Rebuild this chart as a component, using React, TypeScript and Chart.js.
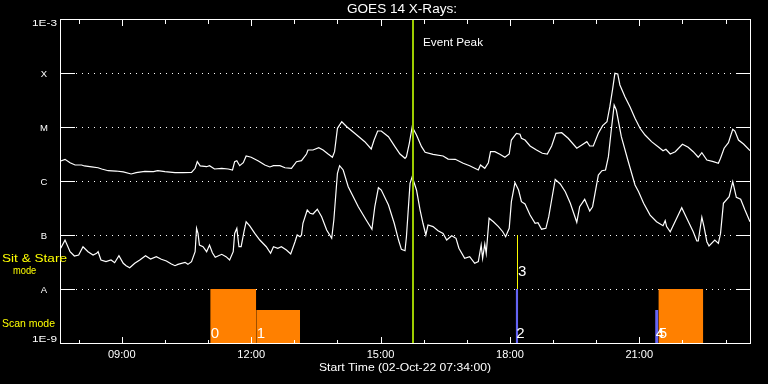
import React, { useEffect, useRef } from "react";
import { Chart, registerables } from "chart.js";

Chart.register(...registerables);

// ---------- data ----------
const TITLE = "GOES 14 X-Rays:";
const START_LABEL = "Start Time (02-Oct-22 07:34:00)";
const START_MINUTE_OF_DAY = 7 * 60 + 34; // 07:34
const SPAN_MINUTES = 960;
const TICK_HOURS = [8, 9, 10, 11, 12, 13, 14, 15, 16, 17, 18, 19, 20, 21, 22, 23];
const LABEL_HOURS = [9, 12, 15, 18, 21];
const Y_DECADES = [-9, -8, -7, -6, -5, -4, -3];
const Y_LABELS = ["1E-9", "A", "B", "C", "M", "X", "1E-3"];
const EVENT_PEAK_MIN = 491;
const EVENT_LABEL = "Event Peak";

// [minutes since 07:34, flux W/m^2] - long channel (1-8 A)
const LONG_CHANNEL: [number, number][] = [
  [1, 2.34e-6], [7, 2.52e-6], [14, 2.18e-6], [21, 1.98e-6], [30, 1.98e-6], [34, 1.9e-6],
  [44, 1.82e-6], [53, 1.76e-6], [58, 1.67e-6], [67, 1.55e-6], [78, 1.53e-6], [88, 1.47e-6],
  [99, 1.35e-6], [106, 1.43e-6], [118, 1.51e-6], [130, 1.49e-6], [136, 1.55e-6], [146, 1.49e-6],
  [160, 1.43e-6], [171, 1.43e-6], [183, 1.45e-6], [188, 1.72e-6], [191, 2.28e-6], [195, 1.9e-6],
  [204, 1.84e-6], [208, 1.92e-6], [215, 1.67e-6], [225, 1.72e-6], [234, 1.67e-6], [240, 1.6e-6],
  [243, 2.28e-6], [246, 2.38e-6], [250, 1.92e-6], [255, 2.18e-6], [259, 2.9e-6], [266, 2.75e-6],
  [276, 2.34e-6], [285, 1.98e-6], [292, 1.82e-6], [297, 1.92e-6], [306, 1.92e-6], [313, 1.76e-6],
  [322, 1.72e-6], [329, 2.28e-6], [336, 2.38e-6], [343, 3.16e-6], [345, 3.75e-6], [352, 3.75e-6],
  [360, 4.14e-6], [366, 3.75e-6], [373, 3.16e-6], [379, 2.75e-6], [382, 3.49e-6], [386, 9.46e-6],
  [392, 1.25e-5], [399, 1.01e-5], [410, 7.64e-6], [424, 5.35e-6], [433, 3.92e-6], [437, 5.74e-6],
  [442, 8.43e-6], [447, 8.43e-6], [457, 6.61e-6], [466, 4.32e-6], [473, 3.16e-6], [480, 2.63e-6],
  [482, 2.82e-6], [486, 4.99e-6], [490, 1.01e-5], [496, 7.11e-6], [503, 4.32e-6], [508, 3.4e-6],
  [519, 3.12e-6], [533, 2.9e-6], [540, 2.55e-6], [550, 2.52e-6], [561, 2.13e-6], [570, 1.92e-6],
  [582, 1.6e-6], [585, 1.98e-6], [591, 1.72e-6], [596, 2.18e-6], [599, 3.49e-6], [605, 3.49e-6],
  [612, 3.12e-6], [619, 2.75e-6], [625, 3.16e-6], [628, 5.74e-6], [635, 7.64e-6], [640, 7.33e-6],
  [642, 6.18e-6], [647, 5.74e-6], [654, 4.45e-6], [663, 3.75e-6], [671, 3.26e-6], [678, 3.16e-6],
  [684, 4.45e-6], [690, 7.64e-6], [698, 7.83e-6], [707, 6.18e-6], [719, 4.04e-6], [726, 4.64e-6],
  [733, 5.35e-6], [737, 4.45e-6], [742, 4.45e-6], [749, 7.64e-6], [755, 1.06e-5], [761, 1.25e-5],
  [765, 2.38e-5], [769, 5.21e-5], [772, 9.87e-5], [776, 9.58e-5], [779, 6.0e-5], [786, 3.64e-5],
  [793, 2.38e-5], [800, 1.45e-5], [807, 9.46e-6], [814, 7.11e-6], [823, 5.35e-6], [833, 4.21e-6],
  [839, 3.64e-6], [843, 3.86e-6], [849, 3.16e-6], [856, 3.49e-6], [866, 4.79e-6], [874, 4.21e-6],
  [881, 3.49e-6], [888, 2.75e-6], [893, 3.34e-6], [900, 2.45e-6], [909, 2.28e-6], [916, 2.13e-6],
  [919, 2.63e-6], [924, 4.04e-6], [930, 5.12e-6], [936, 9.06e-6], [939, 8.43e-6], [944, 5.74e-6],
  [951, 4.84e-6], [960, 3.64e-6],
];

// [minutes since 07:34, flux W/m^2] - short channel (0.5-4 A)
const SHORT_CHANNEL: [number, number][] = [
  [1, 5.68e-8], [7, 8.07e-8], [14, 4.91e-8], [20, 4.08e-8], [26, 4.26e-8], [32, 6.07e-8],
  [39, 4.91e-8], [46, 4.26e-8], [51, 4.58e-8], [53, 4.91e-8], [57, 3.44e-8], [64, 3.21e-8],
  [71, 3.44e-8], [76, 3.07e-8], [82, 4.14e-8], [88, 2.99e-8], [92, 2.7e-8], [97, 2.48e-8],
  [104, 2.99e-8], [111, 3.44e-8], [119, 4.14e-8], [126, 3.6e-8], [134, 3.97e-8], [141, 3.55e-8],
  [148, 3.3e-8], [155, 2.9e-8], [160, 2.7e-8], [164, 2.86e-8], [174, 3.12e-8], [178, 2.86e-8],
  [183, 3.21e-8], [188, 4.91e-8], [190, 1.33e-7], [192, 1.07e-7], [194, 6.53e-8], [199, 6.07e-8],
  [204, 4.91e-8], [208, 6.53e-8], [212, 4.7e-8], [216, 3.86e-8], [225, 4.39e-8], [231, 3.97e-8],
  [236, 3.44e-8], [241, 4.91e-8], [243, 1.07e-7], [246, 1.33e-7], [249, 6.07e-8], [252, 6.07e-8],
  [256, 1.15e-7], [259, 1.76e-7], [264, 1.47e-7], [271, 1.07e-7], [278, 8.07e-8], [287, 6.07e-8],
  [293, 4.58e-8], [297, 6.07e-8], [303, 5.68e-8], [308, 6.07e-8], [315, 5.27e-8], [321, 4.45e-8],
  [327, 7.52e-8], [330, 1.0e-7], [334, 9.3e-8], [336, 1.0e-7], [338, 1.65e-7], [344, 2.9e-7],
  [348, 2.52e-7], [352, 2.45e-7], [358, 2.99e-7], [364, 2.18e-7], [371, 1.24e-7], [378, 8.69e-8],
  [381, 1.9e-7], [386, 1.39e-6], [389, 1.92e-6], [394, 1.6e-6], [401, 7.83e-7], [415, 3.34e-7],
  [426, 1.9e-7], [434, 1.28e-7], [438, 3.34e-7], [443, 7.52e-7], [447, 6.81e-7], [457, 3.6e-7],
  [465, 1.65e-7], [471, 8.07e-8], [475, 5.43e-8], [480, 5.12e-8], [482, 9.3e-8], [487, 9.06e-7],
  [490, 1.2e-6], [496, 6.81e-7], [501, 2.9e-7], [505, 1.65e-7], [509, 1.0e-7], [512, 1.53e-7],
  [519, 1.43e-7], [526, 1.2e-7], [533, 1.07e-7], [538, 8.07e-8], [545, 9.71e-8], [551, 8.69e-8],
  [555, 5.68e-8], [563, 3.71e-8], [570, 3.97e-8], [577, 2.99e-8], [582, 3.21e-8], [586, 6.53e-8],
  [588, 3.71e-8], [591, 6.81e-8], [593, 4.58e-8], [597, 2.04e-7], [603, 1.76e-7], [610, 1.43e-7],
  [616, 1.15e-7], [620, 9.3e-8], [625, 1.33e-7], [628, 4.14e-7], [633, 9.3e-7], [638, 6.81e-7],
  [642, 4.14e-7], [647, 3.75e-7], [654, 2.34e-7], [661, 1.65e-7], [665, 1.69e-7], [670, 1.28e-7],
  [676, 1.33e-7], [680, 2.18e-7], [684, 4.45e-7], [689, 1.07e-6], [696, 8.8e-7], [703, 6.33e-7],
  [710, 3.86e-7], [719, 1.72e-7], [723, 3.34e-7], [730, 4.58e-7], [737, 2.78e-7], [741, 3.34e-7],
  [749, 1.29e-6], [754, 1.55e-6], [759, 1.6e-6], [763, 2.82e-6], [767, 8.8e-6], [771, 2.55e-5],
  [774, 2.06e-5], [781, 6.61e-6], [790, 2.45e-6], [800, 8.43e-7], [805, 6.33e-7], [812, 3.86e-7],
  [821, 2.34e-7], [830, 1.76e-7], [839, 1.49e-7], [842, 1.84e-7], [844, 1.43e-7], [849, 1.15e-7],
  [858, 2.04e-7], [865, 3.21e-7], [872, 2.04e-7], [881, 1.15e-7], [886, 7.75e-8], [888, 7.75e-8],
  [893, 2.13e-7], [896, 1.43e-7], [900, 7.52e-8], [903, 6.25e-8], [911, 8.07e-8], [916, 7.01e-8],
  [919, 1.07e-7], [923, 3.86e-7], [931, 5.12e-7], [936, 9.71e-7], [941, 4.99e-7], [947, 4.58e-7],
  [953, 2.9e-7], [960, 1.76e-7],
];

// observation blocks (minutes since 07:34)
const BLOCK_LABELS = ["0", "1", "2", "4", "5"];
const BLOCK_START = [209, 273, 634, 828, 832.5];
const BLOCK_END = [273, 334, 637.5, 832.5, 895];
const BLOCK_LEVEL = [1e-8, 4.1e-9, 1e-8, 4.1e-9, 1e-8];
const BLOCK_KIND = ["orange", "orange", "blue", "blue", "orange"];
const MARK_LABEL = "3";
const MARK_TIME = 636.5;
const MARK_FROM = 1e-8;
const MARK_TO = 1e-7;

const MODE_LABELS = ["Sit & Stare", "mode", "Scan mode"];

// ---------- styles ----------
const FONT = '"Liberation Sans", Arial, sans-serif';
const ORANGE = "#ff8000";
const BLUE = "#6464f4";
const YELLOW = "#ffff00";
const LIME = "rgb(156,204,0)";

function txt(
  ctx: CanvasRenderingContext2D,
  s: string,
  x: number,
  y: number,
  size: number,
  color: string,
  align: "left" | "center" | "right",
  width?: number,
  sx0?: number
) {
  ctx.save();
  ctx.font = `${size}px ${FONT}`;
  ctx.fillStyle = color;
  ctx.textBaseline = "middle";
  ctx.textAlign = "left";
  const w = ctx.measureText(s).width;
  const sx = width ? width / w : sx0 || 1;
  const tw = w * sx;
  const x0 = align === "left" ? x : align === "center" ? x - tw / 2 : x - tw;
  ctx.translate(x0, y);
  ctx.scale(sx, 1);
  ctx.fillText(s, 0, 0);
  ctx.restore();
}

const decor = {
  id: "decor",
  beforeDraw(chart: any) {
    const ctx = chart.ctx as CanvasRenderingContext2D;
    ctx.save();
    ctx.fillStyle = "#000";
    ctx.fillRect(0, 0, chart.width, chart.height);
    ctx.restore();
  },
  beforeDatasetsDraw(chart: any) {
    const ctx = chart.ctx as CanvasRenderingContext2D;
    const { left, right } = chart.chartArea;
    const ys = chart.scales.y;
    ctx.save();
    ctx.fillStyle = "#fff";
    Y_DECADES.slice(1, -1).forEach((d) => {
      const y = Math.round(ys.getPixelForValue(Math.pow(10, d)));
      for (let x = left + 16; x < right - 14; x += 6) ctx.fillRect(x, y, 1, 1);
    });
    ctx.restore();
  },
  afterDatasetsDraw(chart: any) {
    const ctx = chart.ctx as CanvasRenderingContext2D;
    const { left, right, top, bottom } = chart.chartArea;
    const xs = chart.scales.x;
    const ys = chart.scales.y;
    ctx.save();

    // event peak line
    const ep = Math.round(xs.getPixelForValue(EVENT_PEAK_MIN));
    ctx.fillStyle = LIME;
    ctx.fillRect(ep - 1, top, 2, bottom - top);

    // frame
    ctx.fillStyle = "#fff";
    ctx.fillRect(left, top, right - left + 1, 1);
    ctx.fillRect(left, bottom, right - left + 1, 1);
    ctx.fillRect(left, top, 1, bottom - top + 1);
    ctx.fillRect(right, top, 1, bottom - top + 1);

    // y ticks
    Y_DECADES.forEach((d, i) => {
      const y = Math.round(ys.getPixelForValue(Math.pow(10, d)));
      ctx.fillStyle = "#fff";
      ctx.fillRect(left, y, 15, 1);
      ctx.fillRect(right - 14, y, 15, 1);
      const lab = Y_LABELS[i];
      const ly = Math.min(Math.max(y + 1, top + 4), bottom - 4);
      if (lab.length > 1) txt(ctx, lab, 44.5, ly, 9.5, "#fff", "center", 25);
      else txt(ctx, lab, 44, ly, 9.5, "#fff", "center", undefined, 1);
    });

    // x ticks
    TICK_HOURS.forEach((h) => {
      const x = Math.round(xs.getPixelForValue(h * 60 - START_MINUTE_OF_DAY));
      const major = h % 3 === 0;
      ctx.fillStyle = "#fff";
      ctx.fillRect(x, bottom - (major ? 6 : 3), 1, major ? 6 : 3);
      ctx.fillRect(x, top + 1, 1, major ? 6 : 4);
    });
    LABEL_HOURS.forEach((h) => {
      const x = xs.getPixelForValue(h * 60 - START_MINUTE_OF_DAY);
      const s = `${String(h).padStart(2, "0")}:00`;
      txt(ctx, s, x, 355, 10, "#fff", "center", 27.7);
    });

    // texts
    const cx = (left + right) / 2;
    txt(ctx, TITLE, cx - 3, 9.5, 12.5, "#fff", "center", 110);
    txt(ctx, START_LABEL, cx, 368, 10.5, "#fff", "center", 172);
    txt(ctx, EVENT_LABEL, ep + 10, 43, 11, "#fff", "left", 60);

    txt(ctx, MODE_LABELS[0], 2, 259, 11, YELLOW, "left", 65);
    txt(ctx, MODE_LABELS[1], 13, 271, 11, YELLOW, "left", 23.3);
    txt(ctx, MODE_LABELS[2], 2, 323.5, 11, YELLOW, "left", 53);

    // block labels
    BLOCK_LABELS.forEach((lab, i) => {
      const x = xs.getPixelForValue(BLOCK_START[i]);
      txt(ctx, lab, x + 0.5, 333.5, 15, "#fff", "left");
    });
    const mx = xs.getPixelForValue(MARK_TIME);
    txt(ctx, MARK_LABEL, mx + 0.5, 271.5, 15, "#fff", "left");

    ctx.restore();
  },
};

export default function App() {
  const ref = useRef<HTMLCanvasElement | null>(null);

  useEffect(() => {
    document.body.style.margin = "0";
    document.body.style.background = "#000";
    const canvas = ref.current;
    if (!canvas) return;

    const blockSets = BLOCK_LABELS.map((lab, i) => ({
      label: `block ${lab}`,
      data: [
        { x: BLOCK_START[i], y: BLOCK_LEVEL[i] },
        { x: BLOCK_END[i], y: BLOCK_LEVEL[i] },
      ],
      borderWidth: 0,
      borderColor: "rgba(0,0,0,0)",
      backgroundColor: BLOCK_KIND[i] === "orange" ? ORANGE : BLUE,
      fill: "start",
      pointRadius: 0,
      tension: 0,
      order: 5,
    }));

    const chart = new Chart(canvas, {
      type: "line",
      data: {
        datasets: [
          ...blockSets,
          {
            label: "mark",
            data: [
              { x: MARK_TIME, y: MARK_FROM },
              { x: MARK_TIME, y: MARK_TO },
            ],
            borderColor: YELLOW,
            borderWidth: 1,
            pointRadius: 0,
            fill: false,
            order: 4,
          },
          {
            label: "long",
            data: LONG_CHANNEL.map(([t, f]) => ({ x: t, y: f })),
            borderColor: "#ffffff",
            borderWidth: 1.2,
            pointRadius: 0,
            tension: 0,
            fill: false,
            order: 1,
          },
          {
            label: "short",
            data: SHORT_CHANNEL.map(([t, f]) => ({ x: t, y: f })),
            borderColor: "#ffffff",
            borderWidth: 1.2,
            pointRadius: 0,
            tension: 0,
            fill: false,
            order: 1,
          },
        ] as any,
      },
      options: {
        responsive: false,
        animation: false,
        events: [],
        layout: { padding: { top: 19, right: 18, left: 0, bottom: 0 } },
        plugins: {
          legend: { display: false },
          tooltip: { enabled: false },
          title: { display: false },
        },
        scales: {
          x: {
            type: "linear",
            min: 0,
            max: SPAN_MINUTES,
            grid: { display: false },
            border: { display: false },
            ticks: { display: false },
            afterFit(s: any) {
              s.height = 41;
            },
          },
          y: {
            type: "logarithmic",
            min: Math.pow(10, Y_DECADES[0]),
            max: Math.pow(10, Y_DECADES[Y_DECADES.length - 1]),
            grid: { display: false },
            border: { display: false },
            ticks: { display: false },
            afterFit(s: any) {
              s.width = 60;
            },
          },
        },
      } as any,
      plugins: [decor],
    });

    return () => chart.destroy();
  }, []);

  return (
    <div style={{ position: "fixed", left: 0, top: 0, width: 768, height: 384, background: "#000" }}>
      <canvas ref={ref} width={768} height={384} style={{ display: "block" }} />
    </div>
  );
}
